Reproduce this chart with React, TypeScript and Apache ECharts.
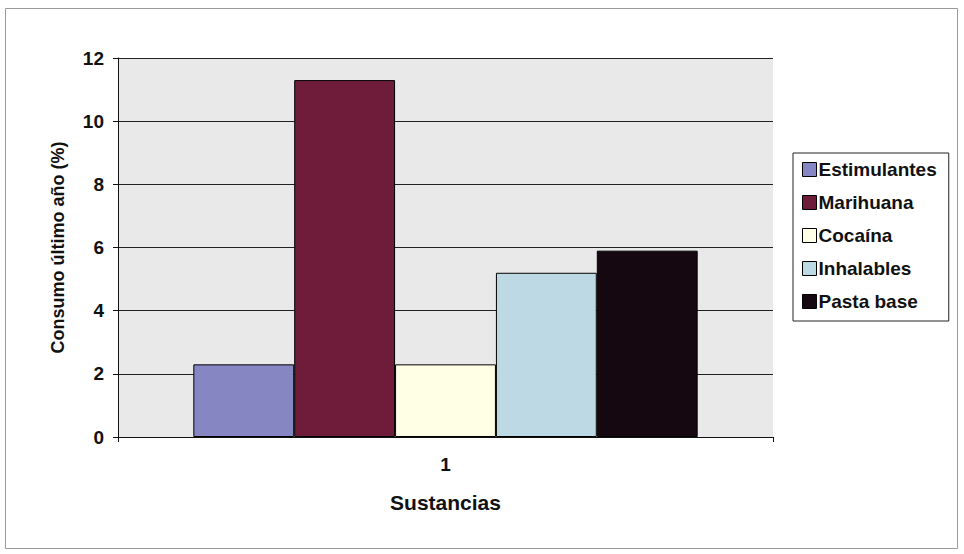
import React, { useEffect, useRef } from "react";
import * as echarts from "echarts";

const categories = ["1"];
const seriesNames = ["Estimulantes", "Marihuana", "Cocaína", "Inhalables", "Pasta base"];
const seriesValues = [2.3, 11.3, 2.3, 5.2, 5.9];
const seriesColors = ["#8586c2", "#6e1c3a", "#ffffe6", "#bcd9e4", "#160810"];
const yTicks = { min: 0, max: 12, interval: 2 };

export default function App() {
  const ref = useRef<HTMLDivElement>(null);
  useEffect(() => {
    if (!ref.current) return;
    const chart = echarts.init(ref.current, null, { renderer: "svg" });
    const font = "Liberation Sans, Arial, sans-serif";
    chart.setOption({
      animation: false,
      backgroundColor: "#ffffff",
      textStyle: { fontFamily: font },
      graphic: [
        {
          type: "rect",
          shape: { x: 5.5, y: 8.5, width: 952, height: 540 },
          style: { fill: "none", stroke: "#9a9a9a", lineWidth: 1 },
          silent: true,
        },
      ],
      grid: {
        left: 118,
        top: 58,
        right: 964 - 773,
        bottom: 554 - 437,
        show: true,
        backgroundColor: "#e9e9e9",
        borderWidth: 0,
      },
      legend: {
        orient: "vertical",
        left: 793,
        top: 153,
        padding: [7, 12, 10, 9],
        itemGap: 14,
        itemWidth: 14,
        itemHeight: 14,
        itemStyle: { borderColor: "#000", borderWidth: 1 },
        backgroundColor: "#ffffff",
        borderColor: "#222",
        borderWidth: 1,
        borderRadius: 0,
        icon: "rect",
        textStyle: { fontSize: 19, fontWeight: "bold", color: "#111", fontFamily: font, padding: [0, 0, 0, -3] },
        data: seriesNames,
      },
      xAxis: {
        type: "category",
        data: categories,
        name: "Sustancias",
        nameLocation: "middle",
        nameGap: 55,
        nameTextStyle: { fontSize: 21, fontWeight: "bold", color: "#111" },
        axisLine: { show: true, lineStyle: { color: "#111", width: 1 } },
        axisTick: { show: true, length: 5, lineStyle: { color: "#111" } },
        axisLabel: { fontSize: 19, fontWeight: "bold", color: "#111", margin: 18 },
        splitLine: { show: false },
      },
      yAxis: {
        type: "value",
        min: yTicks.min,
        max: yTicks.max,
        interval: yTicks.interval,
        name: "Consumo último año (%)",
        nameLocation: "middle",
        nameGap: 51,
        nameTextStyle: { fontSize: 18, fontWeight: "bold", color: "#111" },
        axisLine: { show: true, lineStyle: { color: "#111", width: 1 } },
        axisTick: { show: true, length: 5, lineStyle: { color: "#111" } },
        axisLabel: { fontSize: 19, fontWeight: "bold", color: "#111", margin: 14 },
        splitLine: { show: true, lineStyle: { color: "#222", width: 1 } },
      },
      series: seriesNames.map((name, i) => ({
        name,
        type: "bar",
        data: [seriesValues[i]],
        barGap: "0%",
        barCategoryGap: "23%",
        itemStyle: { color: seriesColors[i], borderColor: "#000", borderWidth: 1 },
      })),
    });
    return () => chart.dispose();
  }, []);
  return (
    <div
      ref={ref}
      style={{ position: "fixed", left: 0, top: 0, width: 964, height: 554 }}
    />
  );
}
